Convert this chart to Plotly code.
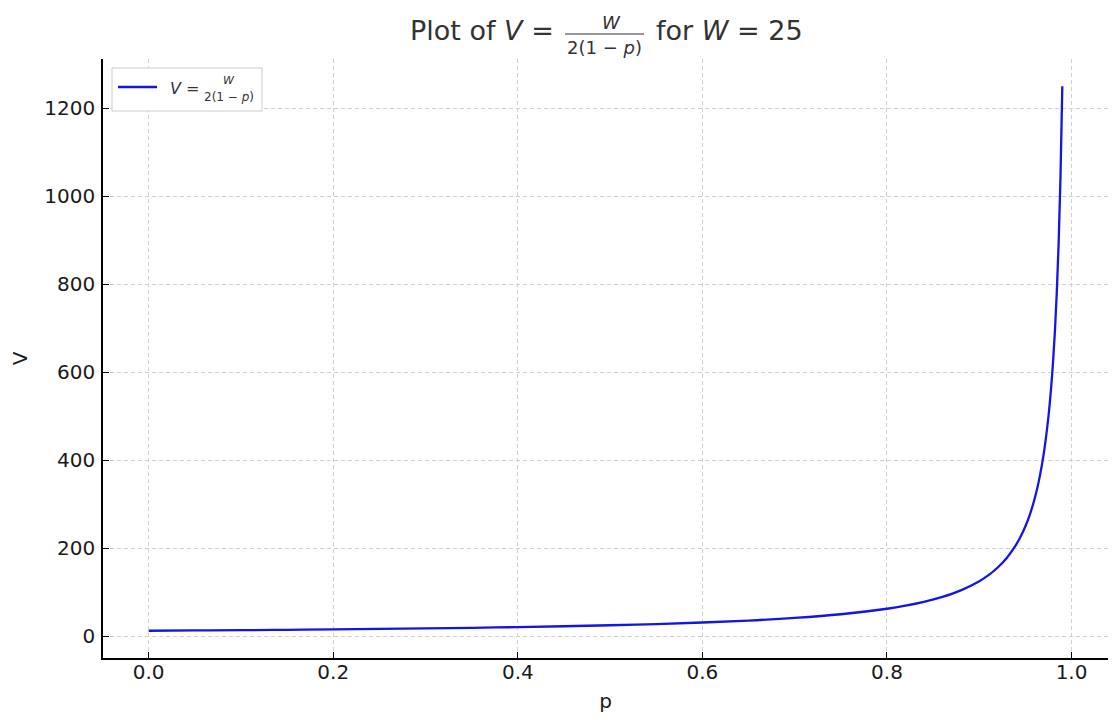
import plotly.graph_objects as go

# values (W = 25)
p_vals = [0.0, 0.05, 0.1, 0.15, 0.2, 0.25, 0.3, 0.35, 0.4, 0.45, 0.5, 0.55, 0.6,
          0.65, 0.7, 0.75, 0.8, 0.82, 0.84, 0.86, 0.88, 0.9, 0.91, 0.92, 0.93,
          0.94, 0.945, 0.95, 0.955, 0.96, 0.965, 0.97, 0.975, 0.978, 0.98,
          0.982, 0.984, 0.986, 0.988, 0.99]
v_vals = [12.5, 13.2, 13.9, 14.7, 15.6, 16.7, 17.9, 19.2, 20.8, 22.7, 25.0, 27.8, 31.3,
          35.7, 41.7, 50.0, 62.5, 69.4, 78.1, 89.3, 104.2, 125.0, 138.9, 156.3, 178.6,
          208.3, 227.3, 250.0, 277.8, 312.5, 357.1, 416.7, 500.0, 568.2, 625.0,
          694.4, 781.3, 892.9, 1041.7, 1250.0]

x_ticks = [0.0, 0.2, 0.4, 0.6, 0.8, 1.0]
y_ticks = [0, 200, 400, 600, 800, 1000, 1200]

font = "DejaVu Sans"
W, H = 1104, 711                 # page body has an 8px margin
ML, MR, MT, MB = 95, 4, 51, 61
PW, PH = W - ML - MR, H - MT - MB


def px(x):   # screen pixel -> paper x
    return (x - 8 - ML) / PW


def py(y):   # screen pixel -> paper y
    return (H - MB - (y - 8)) / PH


fig = go.Figure()
fig.add_trace(go.Scatter(
    x=p_vals, y=v_vals, mode="lines", line_shape="spline",
    line=dict(color="#1414e6", width=2.3),
    name="V", showlegend=False,
))

axis_common = dict(
    showline=True, linecolor="black", linewidth=1.5,
    ticks="inside", ticklen=6, tickwidth=1.3, tickcolor="black",
    showgrid=True, gridcolor="#d0d0d0", griddash="4px,3px", gridwidth=1,
    zeroline=False, automargin=False, tickfont=dict(size=20, color="#1a1a1a"),
)

fig.update_layout(
    width=W, height=H,
    margin=dict(l=ML, r=MR, t=MT, b=MB),
    plot_bgcolor="white", paper_bgcolor="white",
    font=dict(family=font, color="#1a1a1a"),
    xaxis=dict(range=[-0.0495, 1.0395], tickvals=x_ticks,
               ticktext=["%.1f" % v for v in x_ticks], ticklabelstandoff=-5,
               title=dict(text="p", font=dict(size=20), standoff=11),
               **axis_common),
    yaxis=dict(range=[-49.4, 1311.9], tickvals=y_ticks, ticklabelstandoff=2,
               title=dict(text="V", font=dict(size=20), standoff=14),
               **axis_common),
)

# title and legend labels with stacked fractions, built from annotations
labels = [
    # text, x, y, anchor, size, colour
    ("Plot of <i>V</i> =", 556, 31, "right", 27, "#333"),
    ("<i>W</i>", 611, 22, "center", 18, "#333"),
    ("2(1 − <i>p</i>)", 604, 47, "center", 18, "#333"),
    ("for <i>W</i> = 25", 654, 31, "left", 27, "#333"),
    ("<i>V</i> =", 168, 88, "left", 16, "#333"),
    ("<i>W</i>", 229, 81, "center", 11, "#333"),
    ("2(1 − <i>p</i>)", 229, 97, "center", 12, "#333"),
]
for text, x, y, anchor, size, colour in labels:
    fig.add_annotation(
        text=text, xref="paper", yref="paper", x=px(x), y=py(y),
        xanchor=anchor, yanchor="middle", showarrow=False,
        font=dict(size=size, color=colour, family=font),
    )

# fraction bars
for x0, x1, y in [(565, 644, 34), (205, 254, 89)]:
    fig.add_shape(type="line", xref="paper", yref="paper",
                  x0=px(x0), x1=px(x1), y0=py(y), y1=py(y),
                  line=dict(color="#333", width=1.1))

# legend frame and sample line
fig.add_shape(type="rect", xref="paper", yref="paper",
              x0=px(112), x1=px(262), y0=py(68), y1=py(111),
              line=dict(color="#cccccc", width=1), fillcolor="white", layer="above")
fig.add_shape(type="line", xref="paper", yref="paper",
              x0=px(118), x1=px(157), y0=py(87), y1=py(87),
              line=dict(color="#1414e6", width=2.3))

fig.write_html("out.html")
